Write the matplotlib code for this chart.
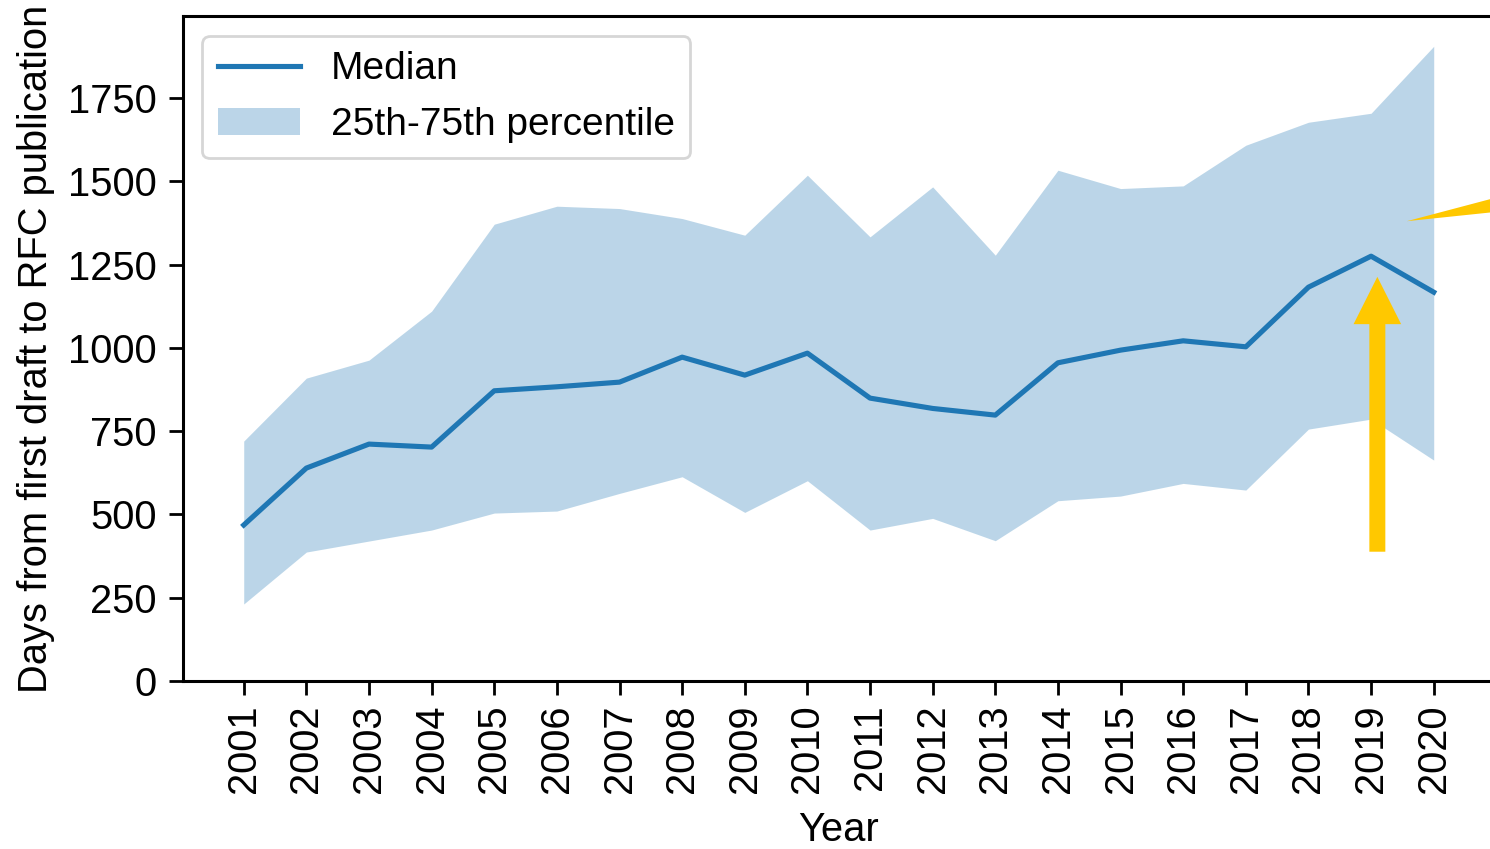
import matplotlib
matplotlib.use('Agg')
import matplotlib.pyplot as plt

plt.rcParams['font.family'] = ['Liberation Sans', 'DejaVu Sans']

years = list(range(2001, 2021))
median = [468, 639, 711, 702, 871, 883, 897, 972, 918, 984,
          849, 818, 798, 955, 993, 1021, 1003, 1182, 1275, 1167]
p75 = [720, 909, 963, 1110, 1371, 1425, 1418, 1388, 1338, 1518,
       1333, 1483, 1278, 1533, 1478, 1486, 1608, 1677, 1704, 1905]
p25 = [231, 387, 420, 453, 504, 510, 563, 613, 506, 601,
       453, 488, 421, 541, 555, 593, 573, 756, 786, 663]

fig = plt.figure(figsize=(14.9, 8.49), dpi=100)
ax = fig.add_axes([0.1228, 0.1979, 0.8802, 0.7829])

ax.plot(years, median, color='#1f77b4', lw=3.7, label='Median')
ax.fill_between(years, p25, p75, color='#1f77b4', alpha=0.3, lw=0,
                label='25th-75th percentile')

# yellow highlight arrow at 2019
ax.arrow(2019.1, 388, 0, 1213 - 388, width=0.255, head_width=0.76,
         head_length=142, length_includes_head=True, color='#ffc800', lw=0)
# wedge pointer coming in from the right
ax.annotate('', xy=(2019.57, 1380), xycoords='data',
            xytext=(300, 55), textcoords='offset pixels',
            arrowprops=dict(arrowstyle='wedge,tail_width=1.7,shrink_factor=0.5',
                            color='#ffc800', lw=0, shrinkA=0, shrinkB=0,
                            mutation_scale=20),
            annotation_clip=False)

ax.set_xlim(2000.03, 2020.97)
ax.set_ylim(0, 1995)
ax.set_xticks(years)
ax.set_xticklabels([str(y) for y in years], rotation=90)
ax.set_yticks([0, 250, 500, 750, 1000, 1250, 1500, 1750])

ax.tick_params(labelsize=28.7, width=2, length=10, color='black')
ax.tick_params(axis='x', pad=7)
ax.tick_params(axis='y', pad=9)
for s in ax.spines.values():
    s.set_linewidth(2.2)
    s.set_color('black')

ax.set_xlabel('Year', fontsize=28.7, labelpad=13)
ax.set_ylabel('Days from first draft to RFC publication', fontsize=28.7, labelpad=9)

leg = ax.legend(loc='upper left', fontsize=28, handlelength=2.1,
                borderaxespad=0.5, framealpha=0.8)
leg.get_frame().set_linewidth(2)

fig.savefig('out.png', dpi=100)
